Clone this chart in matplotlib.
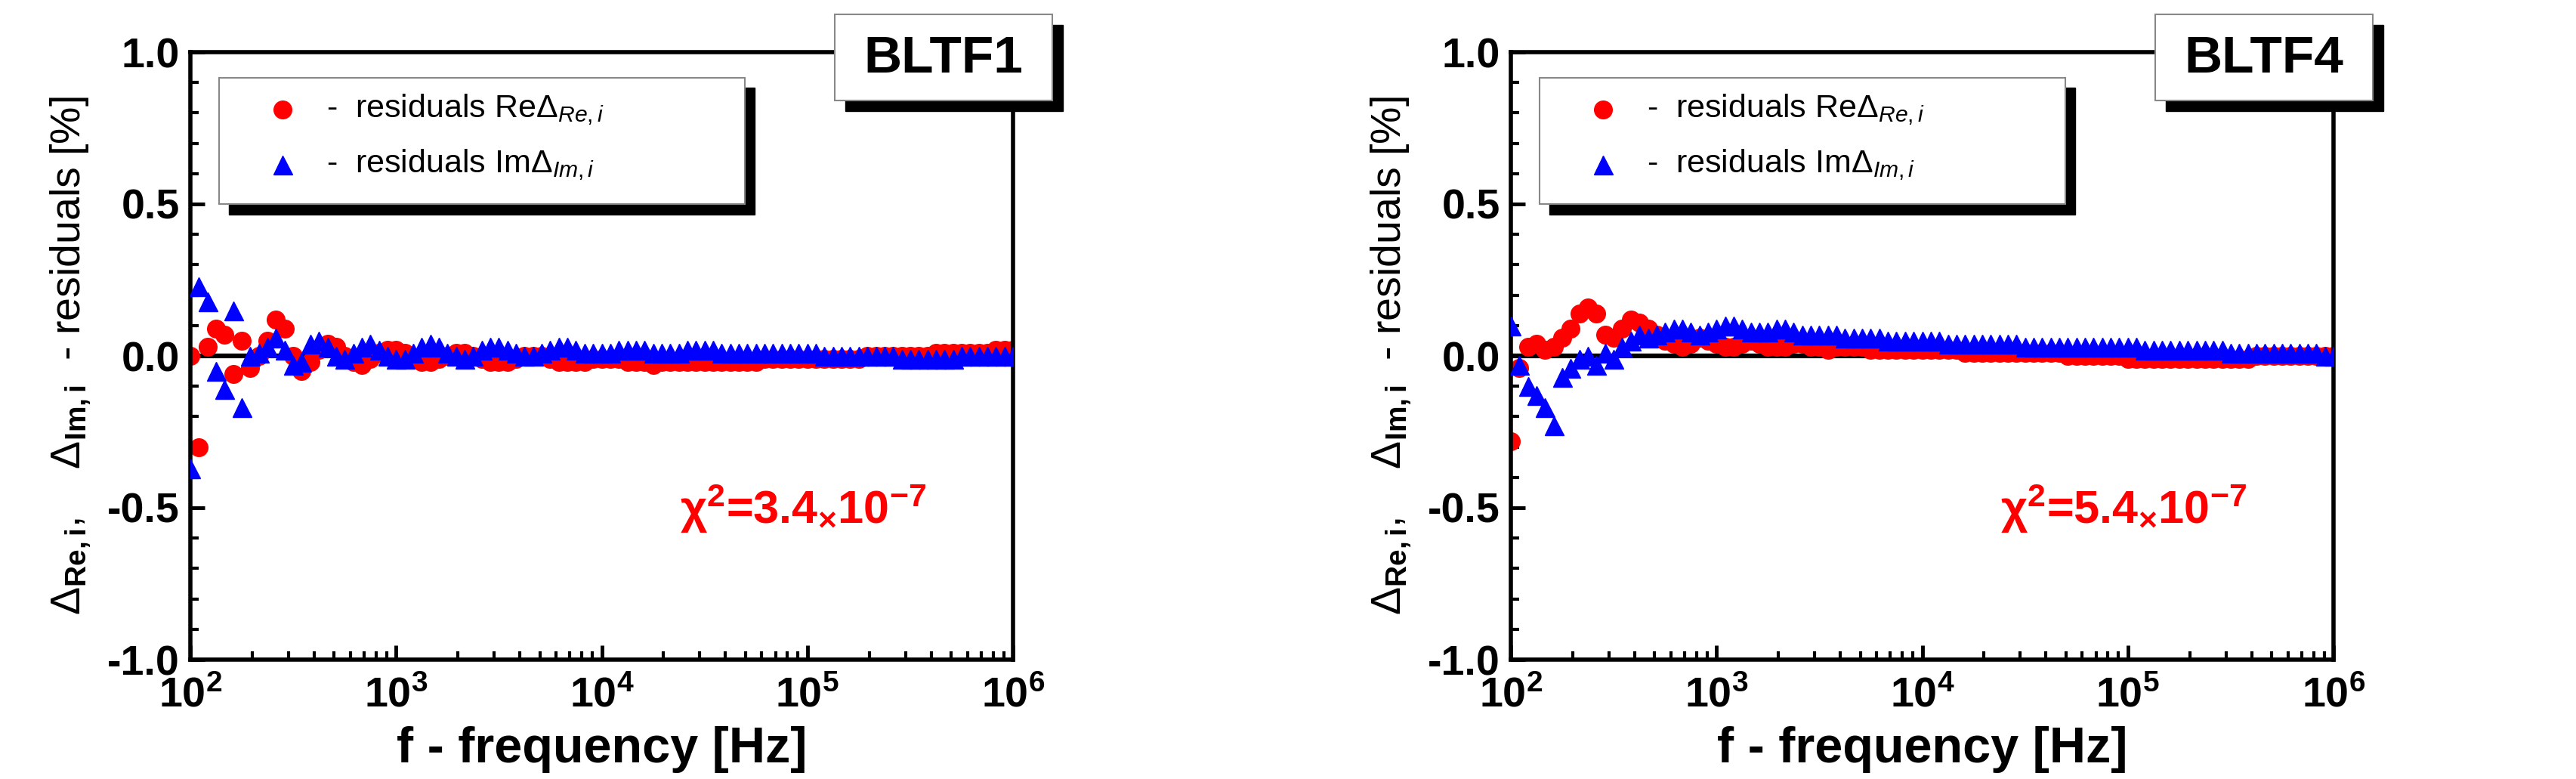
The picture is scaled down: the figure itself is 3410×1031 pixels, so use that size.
import numpy as np
import matplotlib
matplotlib.use('Agg')
import matplotlib.pyplot as plt
from matplotlib.patches import Rectangle

plt.rcParams['font.family'] = ['Liberation Sans', 'DejaVu Sans']
plt.rcParams['mathtext.fontset'] = 'custom'
plt.rcParams['mathtext.rm'] = 'Liberation Sans'
plt.rcParams['mathtext.it'] = 'Liberation Sans:italic'
plt.rcParams['mathtext.bf'] = 'Liberation Sans:bold'

# frequency grid: 24 points per decade, 10^2 .. 10^6
freq = 100 * 10 ** (np.arange(97) / 24.0)

# BLTF1
re_1 = [0.00, -0.30, 0.03, 0.09, 0.07, -0.06, 0.05, -0.04, 0.00, 0.05, 0.12, 0.09,
        0.00, -0.05, -0.02, 0.02, 0.04, 0.03, 0.00, -0.02, -0.03, -0.01, 0.01, 0.02,
        0.02, 0.01, -0.01, -0.02, -0.02, -0.01, 0.00, 0.01, 0.01, 0.00, -0.01, -0.02,
        -0.02, -0.02, -0.01, 0.00, 0.00, 0.00, -0.01, -0.02, -0.02, -0.02, -0.02, -0.01,
        -0.01, -0.01, -0.01, -0.02, -0.02, -0.02, -0.03, -0.02, -0.02, -0.02, -0.02, -0.02,
        -0.02, -0.02, -0.02, -0.02, -0.02, -0.02, -0.02, -0.01, -0.01, -0.01, -0.01, -0.01,
        -0.01, -0.01, -0.01, -0.01, -0.01, -0.01, -0.01, 0.00, 0.00, 0.00, 0.00, 0.00,
        0.00, 0.00, 0.00, 0.01, 0.01, 0.01, 0.01, 0.01, 0.01, 0.01, 0.02, 0.02, 0.02]
im_1 = [-0.37, 0.23, 0.18, -0.05, -0.11, 0.15, -0.17, 0.00, 0.01, 0.03, 0.06, 0.02,
        -0.03, -0.02, 0.04, 0.05, 0.03, 0.00, -0.01, 0.01, 0.03, 0.04, 0.02, 0.00,
        -0.01, -0.01, 0.01, 0.03, 0.04, 0.03, 0.01, 0.00, -0.01, 0.00, 0.02, 0.03,
        0.03, 0.02, 0.01, 0.00, 0.00, 0.01, 0.02, 0.03, 0.03, 0.02, 0.01, 0.01,
        0.01, 0.01, 0.02, 0.02, 0.02, 0.02, 0.01, 0.01, 0.01, 0.01, 0.02, 0.02,
        0.02, 0.02, 0.01, 0.01, 0.01, 0.01, 0.01, 0.01, 0.01, 0.01, 0.01, 0.01,
        0.01, 0.01, 0.00, 0.00, 0.00, 0.00, 0.00, 0.00, 0.00, 0.00, 0.00, -0.01,
        -0.01, -0.01, -0.01, -0.01, -0.01, -0.01, 0.00, 0.00, 0.00, 0.00, 0.00, 0.00, 0.00]

# BLTF4
re_4 = [-0.28, -0.04, 0.03, 0.04, 0.02, 0.03, 0.06, 0.09, 0.14, 0.16, 0.14, 0.07,
        0.06, 0.09, 0.12, 0.11, 0.09, 0.07, 0.05, 0.04, 0.03, 0.04, 0.06, 0.05,
        0.04, 0.03, 0.03, 0.04, 0.05, 0.04, 0.03, 0.03, 0.03, 0.04, 0.04, 0.03,
        0.03, 0.02, 0.03, 0.03, 0.03, 0.03, 0.02, 0.02, 0.02, 0.02, 0.02, 0.02,
        0.02, 0.02, 0.02, 0.02, 0.02, 0.01, 0.01, 0.01, 0.01, 0.01, 0.01, 0.01,
        0.01, 0.01, 0.01, 0.01, 0.01, 0.00, 0.00, 0.00, 0.00, 0.00, 0.00, 0.00,
        -0.01, -0.01, -0.01, -0.01, -0.01, -0.01, -0.01, -0.01, -0.01, -0.01, -0.01, -0.01,
        -0.01, -0.01, -0.01, 0.00, 0.00, 0.00, 0.00, 0.00, 0.00, 0.00, 0.00, 0.00, 0.00]
im_4 = [0.10, -0.03, -0.10, -0.13, -0.17, -0.23, -0.07, -0.04, -0.01, 0.00, -0.03, 0.01,
        -0.01, 0.03, 0.05, 0.07, 0.06, 0.07, 0.08, 0.09, 0.09, 0.08, 0.07, 0.08,
        0.09, 0.10, 0.10, 0.09, 0.08, 0.08, 0.08, 0.09, 0.09, 0.08, 0.07, 0.07,
        0.07, 0.07, 0.07, 0.06, 0.06, 0.06, 0.06, 0.06, 0.05, 0.05, 0.05, 0.05,
        0.05, 0.05, 0.05, 0.04, 0.04, 0.04, 0.04, 0.04, 0.04, 0.04, 0.04, 0.04,
        0.03, 0.03, 0.03, 0.03, 0.03, 0.03, 0.03, 0.03, 0.03, 0.03, 0.03, 0.03,
        0.03, 0.03, 0.02, 0.02, 0.02, 0.02, 0.02, 0.02, 0.02, 0.02, 0.02, 0.02,
        0.01, 0.01, 0.01, 0.01, 0.01, 0.01, 0.01, 0.01, 0.01, 0.01, 0.01, 0.00, 0.00]

panels = [("BLTF1", re_1, im_1, "3.4"),
          ("BLTF4", re_4, im_4, "5.4")]
lefts = [252, 2000]

fig = plt.figure(figsize=(34.1, 10.31), dpi=100)
W, H = 3410, 1031

for (name, re_v, im_v, chi), left in zip(panels, lefts):
    ax = fig.add_axes([left / W, 1 - 873 / H, 1089 / W, 804 / H])
    ax.axhline(0, color='black', lw=4.5, zorder=1)
    ax.plot(freq, re_v, 'o', color='red', ms=17, mec='red', zorder=2)
    ax.plot(freq, im_v, '^', color='blue', ms=18, mec='blue', zorder=3)
    ax.set_xscale('log')
    ax.set_xlim(100, 1e6)
    ax.set_ylim(-1.0, 1.0)
    ax.set_yticks([-1.0, -0.5, 0.0, 0.5, 1.0])
    ax.set_yticks(np.arange(-1.0, 1.01, 0.1), minor=True)
    ax.set_yticklabels(['-1.0', '-0.5', '0.0', '0.5', '1.0'])
    for s in ax.spines.values():
        s.set_linewidth(4)
    ax.tick_params(which='major', direction='in', length=14, width=3.5, labelsize=40, pad=10)
    ax.tick_params(which='minor', direction='in', length=8, width=3)
    ax.tick_params(axis='x', which='major', pad=16)
    for lab in ax.get_xticklabels() + ax.get_yticklabels():
        lab.set_fontweight('bold')
    ax.set_xlabel('f - frequency [Hz]', fontsize=48, fontweight='bold', labelpad=10)
    ax.set_ylabel(r'$\Delta_{\mathbf{Re,i}}$,    $\Delta_{\mathbf{Im,i}}$  - residuals [%]',
                  fontsize=40, labelpad=14)

    # legend box with black shadow
    ax.add_patch(Rectangle((0.047, 0.733), 0.639, 0.208, transform=ax.transAxes,
                           fc='black', ec='black', zorder=4, clip_on=False))
    ax.add_patch(Rectangle((0.035, 0.750), 0.639, 0.208, transform=ax.transAxes,
                           fc='white', ec='#888888', lw=1.5, zorder=5, clip_on=False))
    ax.plot([0.112], [0.905], 'o', color='red', ms=17, transform=ax.transAxes, zorder=6)
    ax.plot([0.112], [0.815], '^', color='blue', ms=18, transform=ax.transAxes, zorder=6)
    ax.text(0.165, 0.905, r'-  residuals Re$\mathit{\Delta}_{\mathit{Re,i}}$', fontsize=31,
            transform=ax.transAxes, va='center', zorder=6)
    ax.text(0.165, 0.815, r'-  residuals Im$\mathit{\Delta}_{\mathit{Im,i}}$', fontsize=31,
            transform=ax.transAxes, va='center', zorder=6)

    # chi-square annotation
    ax.text(0.595, 0.224, r'$\mathbf{\chi^{2}}$=' + chi + r'$\mathregular{_{\times}}$'
            + r'$\mathbf{10^{-7}}$', fontsize=44,
            color='red', fontweight='bold', transform=ax.transAxes)

    # name box with shadow, in figure pixels
    bx = (left + 853) / W
    fig.patches.append(Rectangle((bx + 14 / W, 1 - 147 / H), 288 / W, 114 / H,
                                 transform=fig.transFigure, fc='black', ec='black', zorder=4))
    fig.patches.append(Rectangle((bx, 1 - 133 / H), 288 / W, 114 / H,
                                 transform=fig.transFigure, fc='white', ec='#888888', lw=1.5, zorder=5))
    fig.text(bx + 144 / W, 1 - 78 / H, name, fontsize=50, fontweight='bold',
             ha='center', va='center', zorder=6)

fig.savefig('out.png', dpi=100)
